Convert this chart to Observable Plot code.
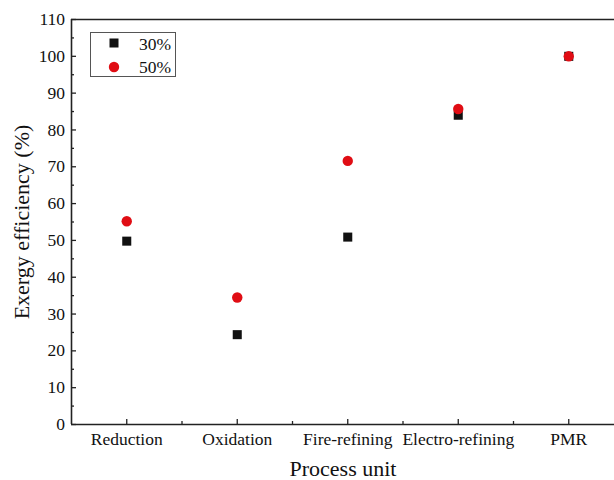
<!DOCTYPE html>
<html>
<head>
<meta charset="utf-8">
<script src="https://cdn.jsdelivr.net/npm/d3@7"></script>
<script src="https://cdn.jsdelivr.net/npm/@observablehq/plot@0.6"></script>
<style>
  html, body { margin: 0; padding: 0; background: #fff; }
  #wrap { position: relative; width: 614px; height: 480px; font-family: "Liberation Serif", serif; }
  #legend { position: absolute; left: 0; top: 0; pointer-events: none; }
</style>
</head>
<body>
<div id="wrap"></div>
<script>
const categories = ["Reduction", "Oxidation", "Fire-refining", "Electro-refining", "PMR"];
const eff30 = [49.8, 24.4, 50.9, 84.0, 100.0];
const eff50 = [55.2, 34.5, 71.6, 85.7, 100.0];
const seriesNames = ["30%", "50%"];
const yMajor = [0, 10, 20, 30, 40, 50, 60, 70, 80, 90, 100, 110];
const yMinor = [5, 15, 25, 35, 45, 55, 65, 75, 85, 95, 105];
const xMajor = [1, 2, 3, 4, 5];
const xMinor = [1.5, 2.5, 3.5, 4.5];

const rows30 = categories.map((c, i) => ({pos: i + 1, v: eff30[i]}));
const rows50 = categories.map((c, i) => ({pos: i + 1, v: eff50[i]}));

const black = "#111111";
const red = "#e00d14";
const axisColor = "#222222";
const FF = "'Liberation Serif', serif";

const chart = Plot.plot({
  width: 614,
  height: 480,
  marginLeft: 71,
  marginRight: 0,
  marginTop: 19,
  marginBottom: 56,
  style: {fontFamily: FF, fontSize: "17.5px", color: "#111", background: "#fff"},
  x: {type: "linear", domain: [0.5, 5.414]},
  y: {domain: [0, 110]},
  marks: [
    Plot.ruleY([110], {stroke: axisColor, strokeWidth: 1.6}),
    Plot.ruleY([0], {stroke: axisColor, strokeWidth: 1.6}),
    Plot.ruleX([0.5], {stroke: axisColor, strokeWidth: 1.6}),
    Plot.axisY(yMajor, {tickSize: 0, tickPadding: 6.5, fontSize: 17.5, fontFamily: FF, fill: "#111", label: null}),
    Plot.axisY(yMajor, {tickSize: -5, tickFormat: () => "", label: null, strokeWidth: 1.3, stroke: axisColor}),
    Plot.axisY(yMinor, {tickSize: -3, tickFormat: () => "", label: null, strokeWidth: 1.3, stroke: axisColor}),
    Plot.axisX(xMajor, {tickSize: 0, tickPadding: 8, fontSize: 17.5, fontFamily: FF, fill: "#111", tickFormat: d => categories[d - 1], label: null}),
    Plot.axisX(xMajor, {tickSize: -5, tickFormat: () => "", label: null, strokeWidth: 1.3, stroke: axisColor}),
    Plot.axisX(xMinor, {tickSize: -3, tickFormat: () => "", label: null, strokeWidth: 1.3, stroke: axisColor}),
    Plot.dot(rows30, {x: "pos", y: "v", symbol: "square", r: 5.1, fill: black, stroke: "none"}),
    Plot.dot(rows50, {x: "pos", y: "v", symbol: "circle", r: 5.2, fill: red, stroke: "none"}),
    Plot.text(["Exergy efficiency (%)"], {frameAnchor: "left", textAnchor: "middle", lineAnchor: "middle", dx: -50, rotate: -90, fontSize: 22, fontFamily: FF, fill: "#111"}),
    Plot.text(["Process unit"], {frameAnchor: "bottom", textAnchor: "middle", lineAnchor: "bottom", dy: 51, fontSize: 22, fontFamily: FF, fill: "#111"})
  ]
});

const wrap = document.getElementById("wrap");
wrap.appendChild(chart);

// legend (inside plot area, top-left)
const lg = d3.select(wrap).append("svg")
  .attr("id", "legend").attr("width", 614).attr("height", 480)
  .style("font-family", FF);
lg.append("rect").attr("x", 90.5).attr("y", 32.5).attr("width", 85).attr("height", 44)
  .attr("fill", "#fff").attr("stroke", "#555").attr("stroke-width", 1);
lg.append("rect").attr("x", 109.5).attr("y", 38.5).attr("width", 9).attr("height", 9).attr("fill", black);
lg.append("circle").attr("cx", 114).attr("cy", 67).attr("r", 5.2).attr("fill", red);
lg.append("text").attr("x", 139).attr("y", 50).attr("font-size", 17.5).attr("fill", "#111").text(seriesNames[0]);
lg.append("text").attr("x", 139).attr("y", 73).attr("font-size", 17.5).attr("fill", "#111").text(seriesNames[1]);
</script>
</body>
</html>
